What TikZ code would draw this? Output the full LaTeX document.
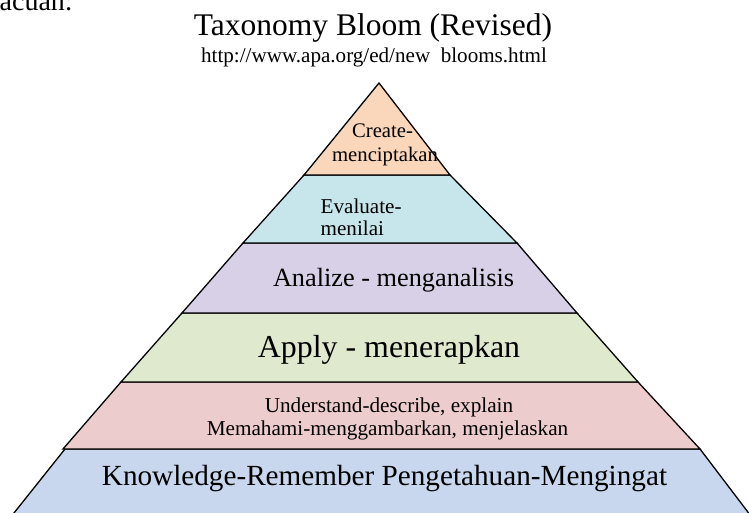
\documentclass[tikz,border=0pt]{standalone}
\usepackage{fontspec}
\setmainfont{Liberation Serif}
\definecolor{cCreate}{RGB}{250,214,186}
\definecolor{cEval}{RGB}{199,230,235}
\definecolor{cAnal}{RGB}{216,208,231}
\definecolor{cApply}{RGB}{223,233,205}
\definecolor{cUnder}{RGB}{237,204,205}
\definecolor{cKnow}{RGB}{200,215,237}
\newcommand{\fsz}[1]{\fontsize{#1}{#1}\selectfont}
\begin{document}
\begin{tikzpicture}[x=1pt,y=-1pt,
  layerbox/.style={draw=black, line width=1.3pt, line join=miter},
  lbl/.style={anchor=base, inner sep=0pt, text=black},
  lblw/.style={anchor=base west, inner sep=0pt, text=black}]
\useasboundingbox (0,0) rectangle (749,513);
\clip (0,0) rectangle (749,513);
% corner coordinates
\coordinate (A)  at (379,83);
\coordinate (L1) at (304,175); \coordinate (R1) at (450,175);
\coordinate (L2) at (243,243); \coordinate (R2) at (517,243);
\coordinate (L3) at (182,313); \coordinate (R3) at (577,313);
\coordinate (L4) at (121,382); \coordinate (R4) at (638,382);
\coordinate (L5) at (63,449);  \coordinate (R5) at (700,449);
\coordinate (K5) at (65,449);
\coordinate (L6) at (2,528);   \coordinate (R6) at (760,528);
% layers
\path[layerbox, fill=cKnow]   (K5) -- (R5) -- (R6) -- (L6) -- cycle;
\path[layerbox, fill=cUnder]  (L4) -- (R4) -- (R5) -- (L5) -- cycle;
\path[layerbox, fill=cApply]  (L3) -- (R3) -- (R4) -- (L4) -- cycle;
\path[layerbox, fill=cAnal]   (L2) -- (R2) -- (R3) -- (L3) -- cycle;
\path[layerbox, fill=cEval]   (L1) -- (R1) -- (R2) -- (L2) -- cycle;
\path[layerbox, fill=cCreate] (A) -- (R1) -- (L1) -- cycle;
% texts
\node[lblw, font=\fsz{28}] (acuan) at (-0.5,10.3) {acuan:};
\node[lbl, font=\fsz{31.5}] (title) at (373,36) {Taxonomy Bloom (Revised)};
\node[lbl, font=\fsz{21.1}] (url) at (374,63) {http://www.apa.org/ed/new\ \ blooms.html};
\node[lbl, font=\fsz{20.7}] (create1) at (382.5,138) {Create-};
\node[lbl, font=\fsz{20.7}] (create2) at (385,162) {menciptakan};
\node[lblw, font=\fsz{21.1}] (eval1) at (320.5,213.5) {Evaluate-};
\node[lblw, font=\fsz{21.1}] (eval2) at (320.5,235.5) {menilai};
\node[lbl, font=\fsz{26.3}] (anal) at (393.5,286) {Analize - menganalisis};
\node[lbl, font=\fsz{31.9}] (apply) at (389,357) {Apply - menerapkan};
\node[lbl, font=\fsz{21.2}] (under1) at (389,412) {Understand-describe, explain};
\node[lbl, font=\fsz{21.2}] (under2) at (387.5,435) {Memahami-menggambarkan, menjelaskan};
\node[lbl, font=\fsz{29.2}] (know) at (384.5,485) {Knowledge-Remember Pengetahuan-Mengingat};
\end{tikzpicture}
\end{document}
